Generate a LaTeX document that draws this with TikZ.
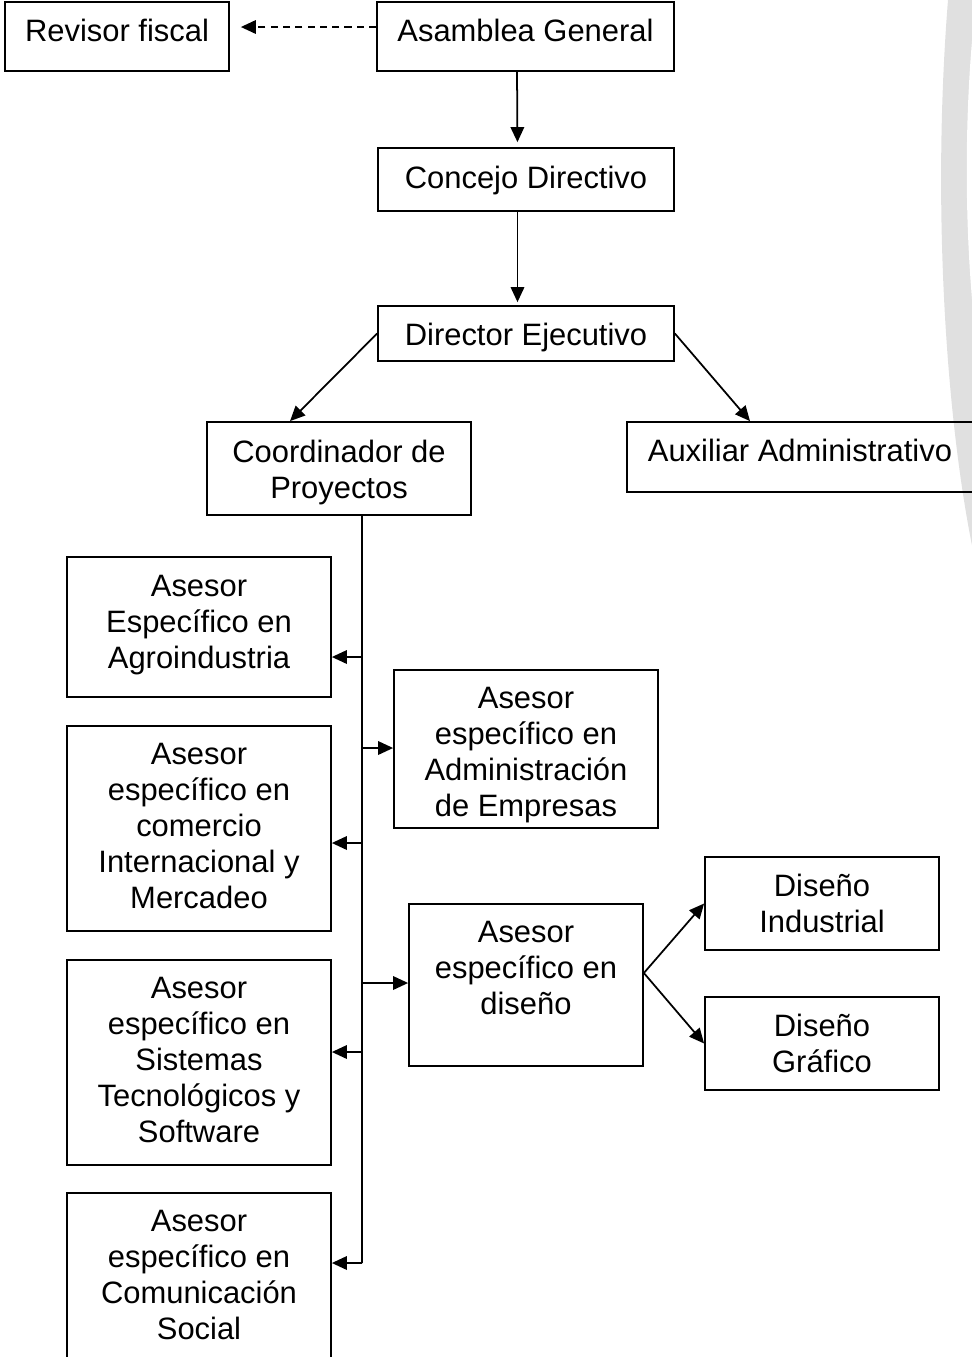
\documentclass[tikz,border=0pt]{standalone}
\usepackage{fontspec}
\setmainfont{Liberation Sans}
\usetikzlibrary{arrows.meta, positioning, fit}

\begin{document}
\begin{tikzpicture}[
  x=0.02cm, y=-0.02cm,
  >={Triangle[length=0.3cm, width=0.27cm]},
  box/.style={draw, rectangle, inner sep=0pt, line width=1pt},
  txt/.style={align=center, inner sep=0pt, font=\fontsize{17.6}{20.5}\selectfont},
  flow/.style={->, line width=1pt},
  trunk/.style={line width=1pt}
]
\useasboundingbox (0,0) rectangle (972,1357);

% marca de fondo
\fill[black!12] (948,0) .. controls (932,200) and (945,420) .. (975,560) -- (975,0) -- cycle;
\fill[white] (975,10) .. controls (964,110) and (964,230) .. (975,330) -- cycle;

\node[box, fit={(5,2) (229,71)}] (Revisor) {};
\node[txt, below=0.36cm of Revisor.north] (Revisor_t) {Revisor fiscal};

\node[box, fit={(377,2) (674,71)}] (Asamblea) {};
\node[txt, below=0.36cm of Asamblea.north] (Asamblea_t) {Asamblea General};

\node[box, fit={(378,148) (674,211)}] (Concejo) {};
\node[txt, below=0.38cm of Concejo.north] (Concejo_t) {Concejo Directivo};

\node[box, fit={(378,306) (674,361)}] (Director) {};
\node[txt, below=0.36cm of Director.north] (Director_t) {Director Ejecutivo};

\node[box, fit={(207,422) (471,515)}] (Coord) {};
\node[txt, below=0.38cm of Coord.north] (Coord_t) {Coordinador de\\Proyectos};

\node[box, fit={(627,422) (980,492)}] (Aux) {};
\node[txt, anchor=north] (Aux_t) at ([xshift=-0.07cm, yshift=-0.36cm]Aux.north) {Auxiliar Administrativo};

\node[box, fit={(67,557) (331,697)}] (Agro) {};
\node[txt, below=0.38cm of Agro.north] (Agro_t) {Asesor\\Específico en\\Agroindustria};

\node[box, fit={(394,670) (658,828)}] (Admin) {};
\node[txt, below=0.36cm of Admin.north] (Admin_t) {Asesor\\específico en\\Administración\\de Empresas};

\node[box, fit={(67,726) (331,931)}] (Comercio) {};
\node[txt, below=0.36cm of Comercio.north] (Comercio_t) {Asesor\\específico en\\comercio\\Internacional y\\Mercadeo};

\node[box, fit={(409,904) (643,1066)}] (AsDis) {};
\node[txt, below=0.36cm of AsDis.north] (AsDis_t) {Asesor\\específico en\\diseño};

\node[box, fit={(705,857) (939,950)}] (DisInd) {};
\node[txt, below=0.36cm of DisInd.north] (DisInd_t) {Diseño\\Industrial};

\node[box, fit={(705,997) (939,1090)}] (DisGraf) {};
\node[txt, below=0.36cm of DisGraf.north] (DisGraf_t) {Diseño\\Gráfico};

\node[box, fit={(67,960) (331,1165)}] (Sistemas) {};
\node[txt, below=0.36cm of Sistemas.north] (Sistemas_t) {Asesor\\específico en\\Sistemas\\Tecnológicos y\\Software};

\node[box, fit={(67,1193) (331,1362)}] (Comunic) {};
\node[txt, below=0.36cm of Comunic.north] (Comunic_t) {Asesor\\específico en\\Comunicación\\Social};

% puntos sobre la linea del coordinador
\coordinate (B1) at (362,657);
\coordinate (B2) at (362,748);
\coordinate (B3) at (362,843);
\coordinate (B4) at (362,983);
\coordinate (B5) at (362,1052);
\coordinate (B6) at (362,1263);

\draw[flow, dash pattern=on 4pt off 3pt, shorten >=0.22cm] ([yshift=0.19cm]Asamblea.west) -- ([yshift=0.19cm]Revisor.east);
\draw[flow, shorten >=0.1cm] ([xshift=-0.17cm]Asamblea.south) -- ([xshift=-0.17cm]Concejo.north);
\draw[flow, shorten >=0.06cm] ([xshift=-0.17cm]Concejo.south) -- ([xshift=-0.17cm]Director.north);

\draw[flow] (Director.west) -- ([xshift=-0.98cm]Coord.north);
\draw[flow] (Director.east) -- ([xshift=-1.07cm]Aux.north);

\draw[trunk] ([xshift=0.46cm]Coord.south) -- (B6);
\draw[flow] (B1) -- (B1 -| Agro.east);
\draw[flow] (B2) -- (B2 -| Admin.west);
\draw[flow] (B3) -- (B3 -| Comercio.east);
\draw[flow] (B4) -- (B4 -| AsDis.west);
\draw[flow] (B5) -- (B5 -| Sistemas.east);
\draw[flow] (B6) -- (B6 -| Comunic.east);

\draw[flow] ([yshift=0.24cm]AsDis.east) -- (DisInd.west);
\draw[flow] ([yshift=0.24cm]AsDis.east) -- (DisGraf.west);
\end{tikzpicture}
\end{document}
